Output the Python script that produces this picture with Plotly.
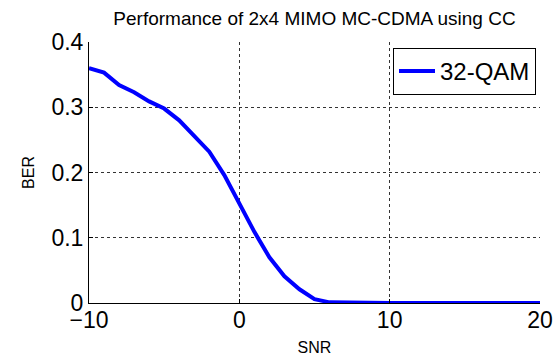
import plotly.graph_objects as go

snr = list(range(-10, 21))
ber = [0.360, 0.353, 0.334, 0.323, 0.309, 0.298, 0.280, 0.257, 0.232, 0.196,
       0.151, 0.109, 0.070, 0.041, 0.021, 0.006, 0.001, 0.0004, 0.0002, 0.0001,
       0.0001, 0.0, 0.0, 0.0, 0.0, 0.0, 0.0, 0.0, 0.0, 0.0, 0.0]
series_name = "32-QAM"
title_text = "Performance of 2x4 MIMO MC-CDMA using CC"

FONT = "Arial, Liberation Sans, sans-serif"

fig = go.Figure()
fig.add_trace(go.Scatter(x=snr, y=ber, mode="lines", name=series_name,
                         line=dict(color="#0000ff", width=4)))

fig.update_layout(
    width=556, height=356,
    margin=dict(l=89, r=16, t=42, b=53),
    paper_bgcolor="white", plot_bgcolor="white",
    font=dict(family=FONT, color="black"),
    title=dict(text=title_text, x=(89 + 540) / 2 / 556, xanchor="center",
               y=1 - 18 / 356, yanchor="middle", font=dict(size=19, color="black")),
    showlegend=True,
    legend=dict(x=(536 - 89) / 451, y=(303 - 48) / 261, xanchor="right", yanchor="top",
                bordercolor="black", borderwidth=1, bgcolor="white",
                font=dict(size=24, color="black"), itemwidth=36,
                tracegroupgap=0),
)
fig.update_xaxes(range=[-10, 20], tick0=-10, dtick=10, showline=True, linecolor="black",
                 linewidth=1, ticks="inside", ticklen=4, tickcolor="black",
                 showgrid=True, gridcolor="#333333", griddash="dot", gridwidth=1,
                 zeroline=False, tickfont=dict(size=23), automargin=False,
                 ticklabelstandoff=-4,
                 title=dict(text="SNR", font=dict(size=16), standoff=12))
fig.update_yaxes(range=[0, 0.4], dtick=0.1, showline=True, linecolor="black",
                 linewidth=1, ticks="inside", ticklen=4, tickcolor="black",
                 showgrid=True, gridcolor="#333333", griddash="dot", gridwidth=1,
                 zeroline=False, tickfont=dict(size=23), tickformat=".1~f",
                 automargin=False,
                 title=dict(text="BER", font=dict(size=16), standoff=12))

fig.write_html("out.html")
